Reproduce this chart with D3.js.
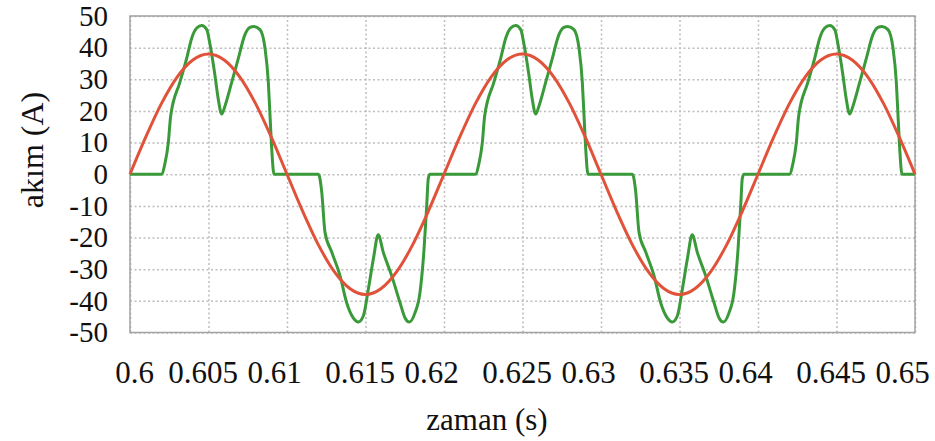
<html>
<script src='https://d3js.org/d3.v7.min.js'></script>
<style>
body {margin: 0; background: white;}
text {font-family: "Liberation Serif", "Times New Roman", serif; fill: #111;}
.grid line {stroke: #bdbdbd; stroke-width: 1.5; stroke-dasharray: 2,2.5;}
.grid path {display: none;}
</style>
<body>
<svg width=935 height=441></svg>
<script>

// x ticks (time, s) and y ticks (current, A)
const xTicks = [0.6, 0.605, 0.61, 0.615, 0.62, 0.625, 0.63, 0.635, 0.64, 0.645, 0.65];
const xTickLabels = ["0.6", "0.605", "0.61", "0.615", "0.62", "0.625", "0.63", "0.635", "0.64", "0.645", "0.65"];
const yTicks = [50, 40, 30, 20, 10, 0, -10, -20, -30, -40, -50];
const yTickLabels = ["50", "40", "30", "20", "10", "0", "-10", "-20", "-30", "-40", "-50"];

// red curve: fundamental current
const redTime = [0.6, 0.601, 0.602, 0.603, 0.604, 0.605, 0.606, 0.607, 0.608, 0.609,
  0.61, 0.611, 0.612, 0.613, 0.614, 0.615, 0.616, 0.617, 0.618, 0.619,
  0.62, 0.621, 0.622, 0.623, 0.624, 0.625, 0.626, 0.627, 0.628, 0.629,
  0.63, 0.631, 0.632, 0.633, 0.634, 0.635, 0.636, 0.637, 0.638, 0.639,
  0.64, 0.641, 0.642, 0.643, 0.644, 0.645, 0.646, 0.647, 0.648, 0.649, 0.65];
const redCurrent = [0, 11.7, 22.3, 30.7, 36.1, 38, 36.1, 30.7, 22.3, 11.7,
  0, -11.7, -22.3, -30.7, -36.1, -38, -36.1, -30.7, -22.3, -11.7,
  0, 11.7, 22.3, 30.7, 36.1, 38, 36.1, 30.7, 22.3, 11.7,
  0, -11.7, -22.3, -30.7, -36.1, -38, -36.1, -30.7, -22.3, -11.7,
  0, 11.7, 22.3, 30.7, 36.1, 38, 36.1, 30.7, 22.3, 11.7, 0];

// green curve: rectifier line current
const greenTime = [0.6,
  0.602, 0.60223, 0.60244, 0.60259, 0.60318, 0.60361, 0.60393, 0.60425, 0.60457, 0.60489, 0.6051, 0.60541, 0.60562,
  0.60584, 0.60605, 0.60648, 0.6069, 0.60732, 0.60764, 0.6079, 0.60828, 0.6086, 0.60881, 0.60892, 0.60903, 0.60917,
  0.612, 0.61221, 0.61242, 0.61285, 0.61338, 0.6138, 0.61422, 0.61454, 0.61486, 0.61518, 0.6155, 0.61581,
  0.61613, 0.61667, 0.6172, 0.61752, 0.61779, 0.61815, 0.61847, 0.61873, 0.6189, 0.619, 0.61911,
  0.622, 0.62223, 0.62244, 0.62259, 0.62318, 0.62361, 0.62393, 0.62425, 0.62457, 0.62489, 0.6251, 0.62541, 0.62562,
  0.62584, 0.62605, 0.62648, 0.6269, 0.62732, 0.62764, 0.6279, 0.62828, 0.6286, 0.62881, 0.62892, 0.62903, 0.62917,
  0.632, 0.63221, 0.63242, 0.63285, 0.63338, 0.6338, 0.63422, 0.63454, 0.63486, 0.63518, 0.6355, 0.63581,
  0.63613, 0.63667, 0.6372, 0.63752, 0.63779, 0.63815, 0.63847, 0.63873, 0.6389, 0.639, 0.63911,
  0.642, 0.64223, 0.64244, 0.64259, 0.64318, 0.64361, 0.64393, 0.64425, 0.64457, 0.64489, 0.6451, 0.64541, 0.64562,
  0.64584, 0.64605, 0.64648, 0.6469, 0.64732, 0.64764, 0.6479, 0.64828, 0.6486, 0.64881, 0.64892, 0.64903, 0.64917,
  0.65];
const greenCurrent = [0,
  0, 3.5, 9.9, 18.4, 29.1, 36.6, 43, 46.2, 47, 45.7, 40.9, 31.3, 23.8,
  19, 21.6, 29.1, 36.6, 44.1, 46.4, 46.7, 45.7, 39.8, 29.1, 18.4, 7.8, 0,
  0, -5.5, -18.3, -24.6, -32.1, -40.6, -45.4, -46.7, -44.8, -36.3, -26.8, -19.1,
  -24.6, -32.1, -40.6, -45.4, -46.7, -43.8, -37.4, -23.6, -9.8, -1.3, 0,
  0, 3.5, 9.9, 18.4, 29.1, 36.6, 43, 46.2, 47, 45.7, 40.9, 31.3, 23.8,
  19, 21.6, 29.1, 36.6, 44.1, 46.4, 46.7, 45.7, 39.8, 29.1, 18.4, 7.8, 0,
  0, -5.5, -18.3, -24.6, -32.1, -40.6, -45.4, -46.7, -44.8, -36.3, -26.8, -19.1,
  -24.6, -32.1, -40.6, -45.4, -46.7, -43.8, -37.4, -23.6, -9.8, -1.3, 0,
  0, 3.5, 9.9, 18.4, 29.1, 36.6, 43, 46.2, 47, 45.7, 40.9, 31.3, 23.8,
  19, 21.6, 29.1, 36.6, 44.1, 46.4, 46.7, 45.7, 39.8, 29.1, 18.4, 7.8, 0,
  0];

var margin = {top: 16, right: 20, bottom: 108.5, left: 130},
    width = 935 - margin.left - margin.right,
    height = 441 - margin.top - margin.bottom;

const svg = d3.select("svg");
const g = svg.append("g").attr("transform", "translate(" + margin.left + "," + margin.top + ")");

const x = d3.scaleLinear().domain([0.6, 0.65]).range([0, width]);
const y = d3.scaleLinear().domain([-50, 50]).range([height, 0]);

// dotted grid
g.append("g").attr("class", "grid")
  .call(d3.axisLeft(y).tickValues(yTicks).tickSize(-width).tickFormat(""));
g.append("g").attr("class", "grid").attr("transform", "translate(0," + height + ")")
  .call(d3.axisBottom(x).tickValues(xTicks).tickSize(-height).tickFormat(""));

// frame
g.append("rect").attr("width", width).attr("height", height)
  .attr("fill", "none").attr("stroke", "#a3a3a3").attr("stroke-width", 1.5);

var line = d3.line().curve(d3.curveMonotoneX);

g.append("path")
  .datum(greenTime.map((t, i) => [x(t), y(greenCurrent[i])]))
  .attr("d", line).attr("fill", "none")
  .attr("stroke", "#3a9a3a").attr("stroke-width", 3).attr("stroke-linejoin", "round");

g.append("path")
  .datum(redTime.map((t, i) => [x(t), y(redCurrent[i])]))
  .attr("d", line).attr("fill", "none")
  .attr("stroke", "#e0533a").attr("stroke-width", 3);

// y axis labels
var ya = g.append("g")
  .call(d3.axisLeft(y).tickValues(yTicks).tickSize(0).tickPadding(22)
    .tickFormat((d, i) => yTickLabels[i]));
ya.select(".domain").remove();
ya.selectAll("text").attr("font-size", 29).attr("fill", "#111")
  .style("font-family", "'Liberation Serif', 'Times New Roman', serif");

// x axis labels
var xa = g.append("g").attr("transform", "translate(0," + height + ")")
  .call(d3.axisBottom(x).tickValues(xTicks).tickSize(0).tickPadding(28)
    .tickFormat((d, i) => xTickLabels[i]));
xa.select(".domain").remove();
xa.selectAll("text").attr("font-size", 31).attr("fill", "#111")
  .style("font-family", "'Liberation Serif', 'Times New Roman', serif")
  .attr("dx", (d, i) => xTickLabels[i].length == 5 ? -6 : (xTickLabels[i].length == 4 ? -13 : 4));

// axis titles
svg.append("text")
  .attr("transform", "translate(32,150) rotate(-90)")
  .attr("dy", "0.35em")
  .style("text-anchor", "middle")
  .attr("font-size", 32)
  .text("akım (A)");

svg.append("text")
  .attr("x", 487).attr("y", 430)
  .style("text-anchor", "middle")
  .attr("font-size", 31)
  .text("zaman (s)");

</script>
</body>
</html>
